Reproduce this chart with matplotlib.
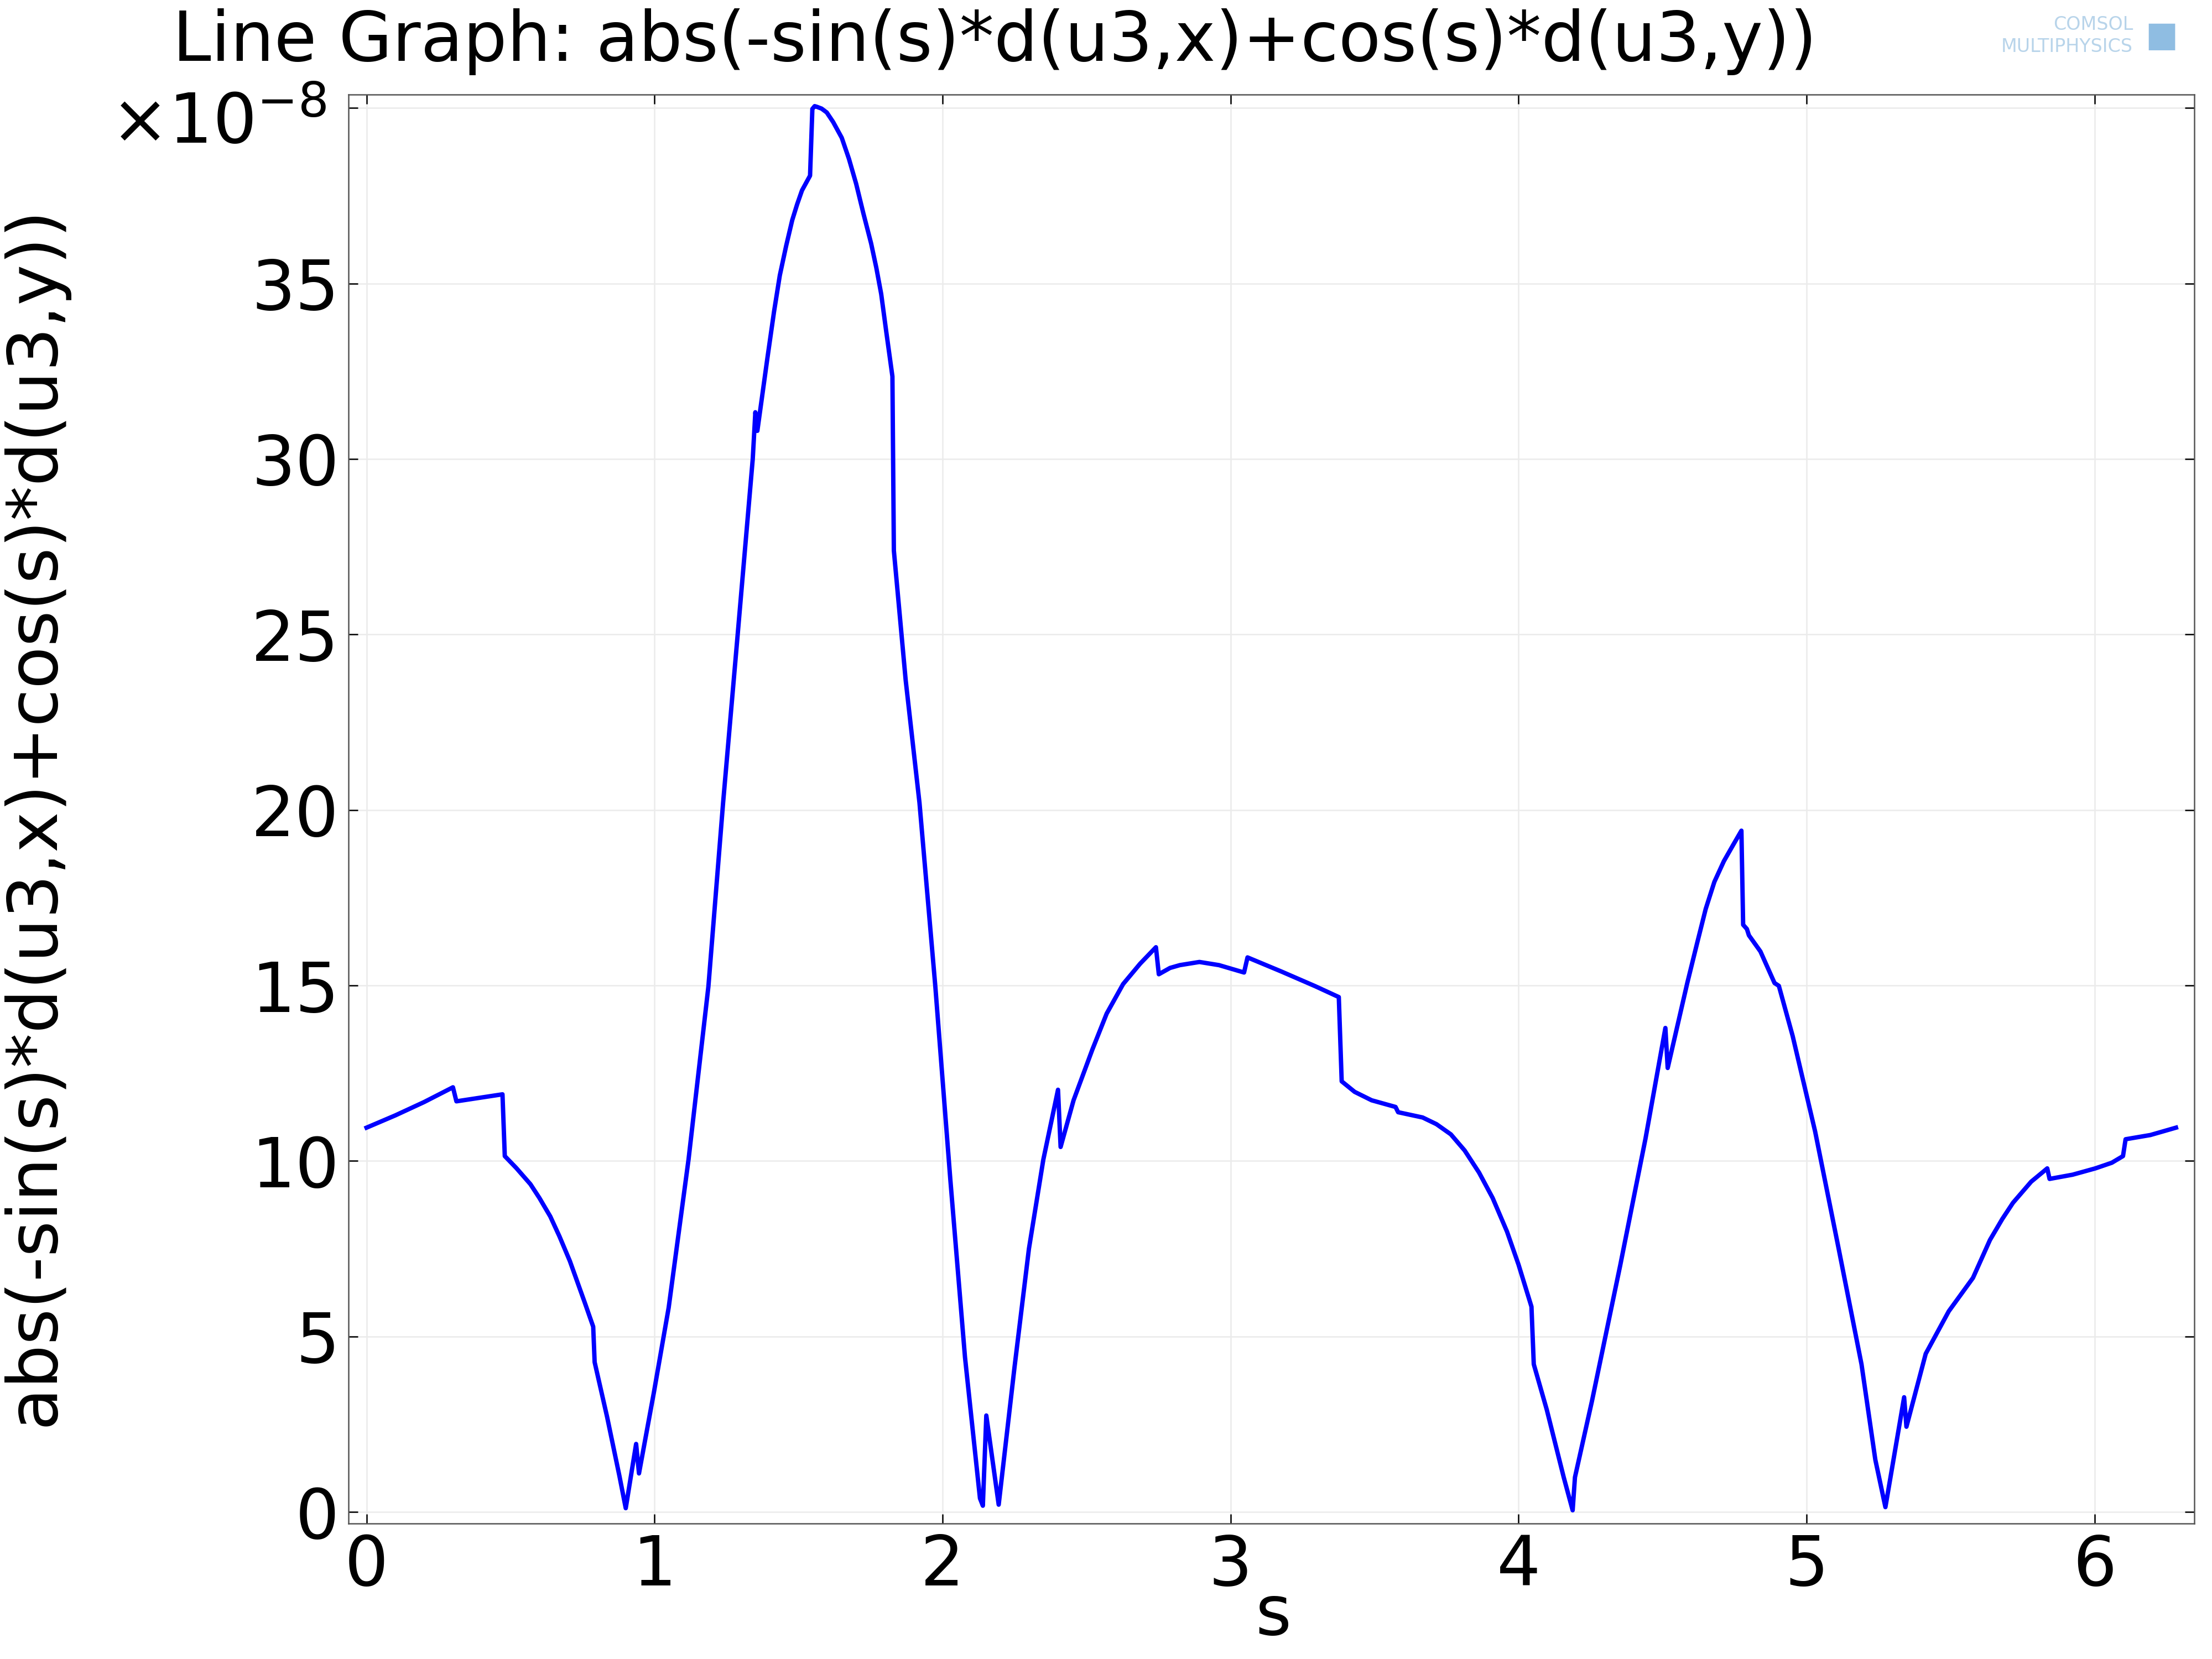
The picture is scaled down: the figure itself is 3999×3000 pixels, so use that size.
import matplotlib
matplotlib.use('Agg')
import matplotlib.pyplot as plt

# ── Data (values in units of 1e-8) ───────────────────────────────────────────
s_vals = [
    0.000, 0.100, 0.200, 0.300, 0.312, 0.472, 0.480, 0.520, 0.569, 0.600,
    0.638, 0.670, 0.706, 0.730, 0.758, 0.787, 0.792, 0.835, 0.878, 0.900,
    0.936, 0.946, 0.998, 1.049, 1.118, 1.187, 1.238, 1.289, 1.341, 1.350,
    1.357, 1.392, 1.415, 1.435, 1.457, 1.478, 1.495, 1.512, 1.540, 1.548,
    1.556, 1.564, 1.580, 1.598, 1.620, 1.650, 1.675, 1.700, 1.725, 1.752,
    1.770, 1.787, 1.805, 1.826, 1.831, 1.872, 1.920, 1.975, 2.027, 2.078,
    2.130, 2.140, 2.152, 2.195, 2.250, 2.300, 2.350, 2.401, 2.410, 2.455,
    2.520, 2.570, 2.627, 2.686, 2.741, 2.751, 2.790, 2.824, 2.892, 2.960,
    3.047, 3.059, 3.176, 3.294, 3.376, 3.386, 3.431, 3.490, 3.573, 3.582,
    3.667, 3.715, 3.765, 3.813, 3.863, 3.910, 3.960, 4.000, 4.045, 4.053,
    4.098, 4.157, 4.188, 4.196, 4.255, 4.353, 4.441, 4.510, 4.518, 4.586,
    4.620, 4.650, 4.680, 4.713, 4.745, 4.774, 4.780, 4.793, 4.800, 4.840,
    4.889, 4.904, 4.952, 5.030, 5.111, 5.191, 5.239, 5.274, 5.339, 5.347,
    5.414, 5.494, 5.578, 5.637, 5.680, 5.717, 5.780, 5.836, 5.844, 5.924,
    6.003, 6.060, 6.099, 6.108, 6.194, 6.283,
]
val = [
    10.95, 11.30, 11.68, 12.10, 11.70, 11.90, 10.14, 9.80, 9.34, 8.95,
    8.42, 7.85, 7.15, 6.60, 5.96, 5.28, 4.27, 2.72, 1.03, 0.11,
    1.94, 1.10, 3.42, 5.82, 10.04, 14.97, 20.20, 25.03, 30.00, 31.33,
    30.80, 32.88, 34.20, 35.23, 36.07, 36.80, 37.25, 37.65, 38.07, 39.97,
    40.05, 40.03, 39.98, 39.87, 39.60, 39.15, 38.55, 37.84, 37.00, 36.14,
    35.45, 34.70, 33.60, 32.35, 27.39, 23.70, 20.20, 14.97, 9.48, 4.41,
    0.39, 0.18, 2.75, 0.21, 4.13, 7.50, 10.04, 12.03, 10.40, 11.73,
    13.17, 14.20, 15.04, 15.62, 16.09, 15.32, 15.50, 15.58, 15.67, 15.58,
    15.37, 15.80, 15.40, 14.98, 14.67, 12.27, 11.97, 11.73, 11.54, 11.39,
    11.24, 11.05, 10.76, 10.30, 9.67, 8.95, 7.99, 7.05, 5.85, 4.21,
    2.92, 0.99, 0.05, 0.99, 3.16, 7.02, 10.64, 13.79, 12.65, 15.07,
    16.20, 17.18, 17.95, 18.54, 19.00, 19.41, 16.73, 16.61, 16.43, 15.97,
    15.07, 14.99, 13.56, 10.84, 7.53, 4.21, 1.49, 0.14, 3.27, 2.43,
    4.51, 5.72, 6.67, 7.75, 8.35, 8.81, 9.41, 9.79, 9.49, 9.61,
    9.79, 9.95, 10.14, 10.62, 10.74, 10.95,
]

x_ticks = [0, 1, 2, 3, 4, 5, 6]
y_ticks = [0, 5, 10, 15, 20, 25, 30, 35, 40]
y_tick_labels = ['0', '5', '10', '15', '20', '25', '30', '35', '']

expr = "abs(-sin(s)*d(u3,x)+cos(s)*d(u3,y))"

# ── Figure ───────────────────────────────────────────────────────────────────
plt.rcParams['font.family'] = 'DejaVu Sans'
fig = plt.figure(figsize=(13.333, 10), dpi=300)
ax = fig.add_axes([0.1575, 0.0816, 0.8342, 0.8614])

ax.plot(s_vals, val, color='#0000ff', linewidth=1.9)

ax.set_xlim(-0.0628, 6.346)
ax.set_ylim(-0.33, 40.38)
ax.set_xticks(x_ticks)
ax.set_yticks(y_ticks)
ax.set_yticklabels(y_tick_labels)
ax.tick_params(direction='in', length=4, width=0.6, top=True, right=True,
               labelsize=30, pad=4)
ax.grid(color='#ebebeb', linewidth=0.6)
for sp in ax.spines.values():
    sp.set_linewidth(0.6)
    sp.set_color('#555555')

ax.set_xlabel("s", fontsize=30)
ax.xaxis.set_label_coords(0.501, -0.041)
ax.set_ylabel(expr, fontsize=30)
ax.yaxis.set_label_coords(-0.152, 0.495)

fig.text(0.078, 0.995, "Line Graph: " + expr, fontsize=30,
         ha='left', va='top')
fig.text(0.05, 0.905, r"$\times$10$^{\mathregular{-8}}$", fontsize=30,
         ha='left', va='bottom')

# COMSOL logo stand-in
fig.text(0.964, 0.985, "COMSOL", fontsize=8, color='#b8d4ea',
         ha='right', va='center')
fig.text(0.964, 0.972, "MULTIPHYSICS", fontsize=8, color='#b8d4ea',
         ha='right', va='center')
fig.text(0.977, 0.978, "\u25A0", fontsize=15, color='#8fbde2',
         ha='center', va='center')

plt.savefig("out.png", dpi=300)
plt.close()
